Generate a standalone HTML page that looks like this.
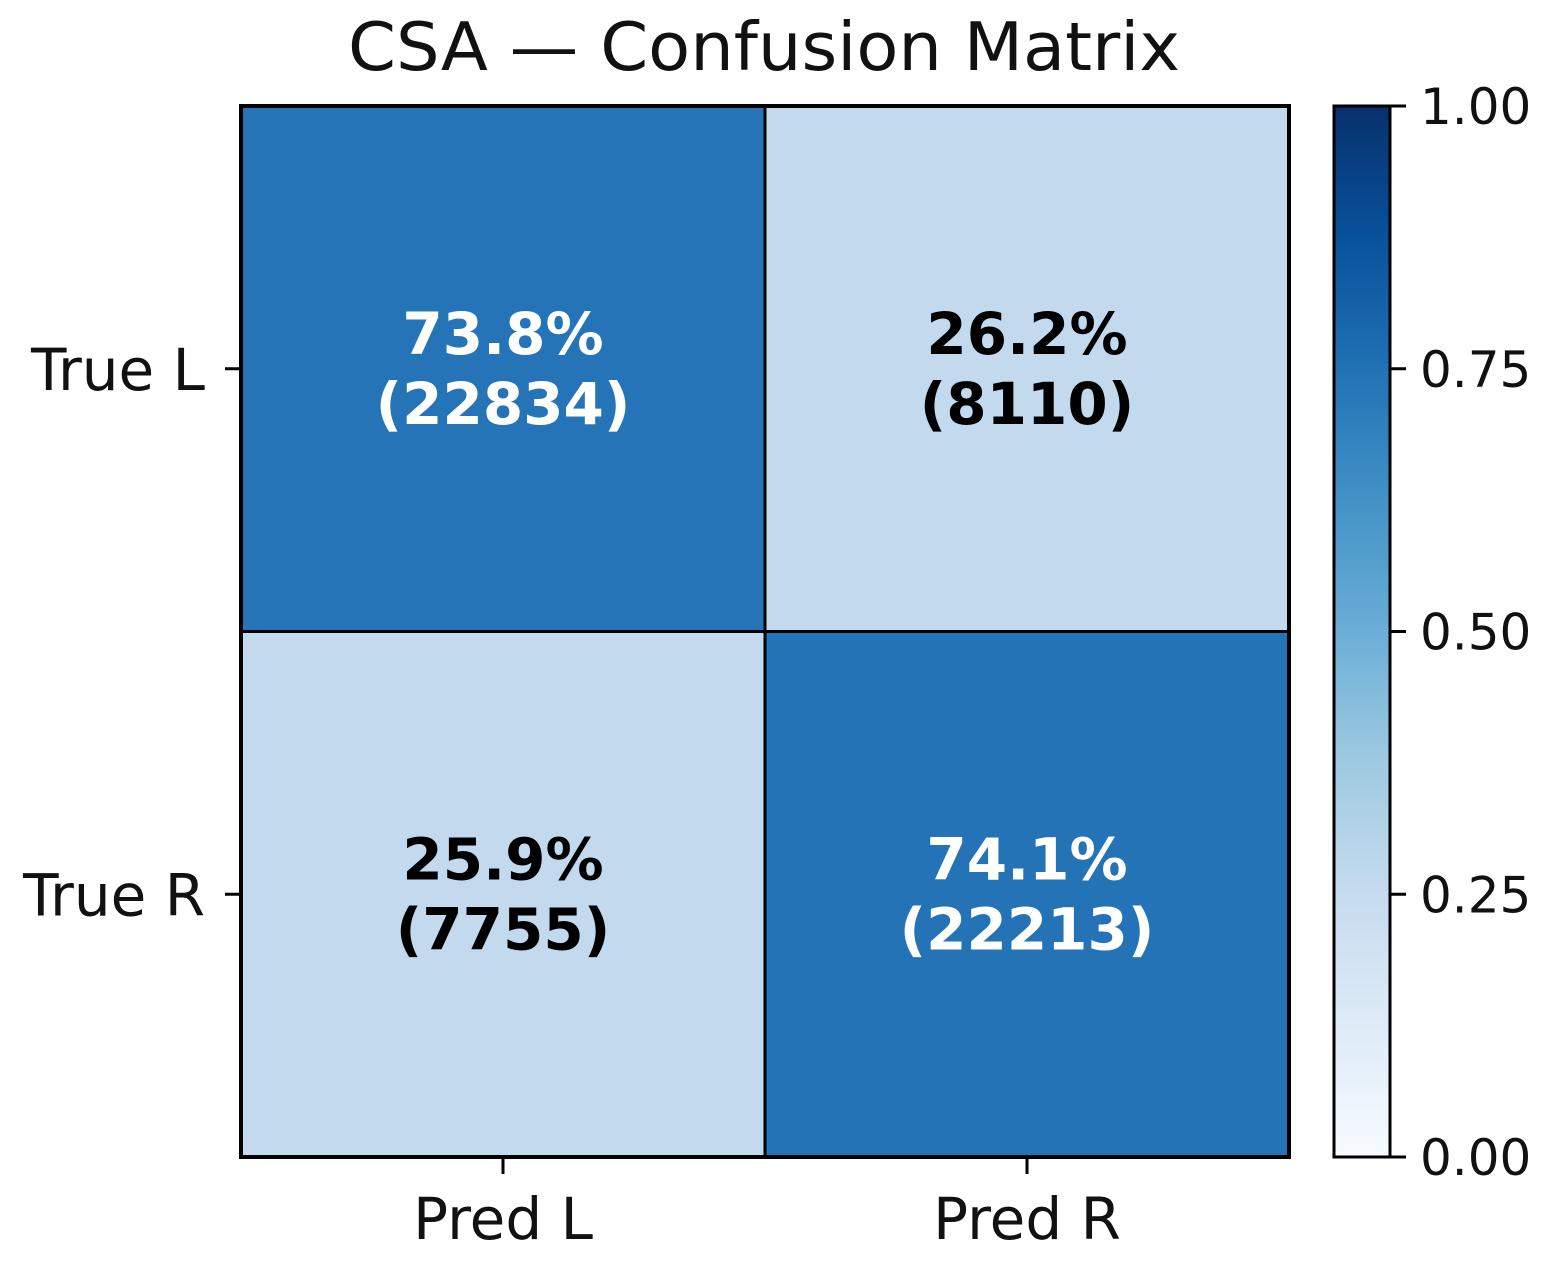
<!DOCTYPE html>
<html><head><meta charset="utf-8"><style>
html,body{margin:0;padding:0;background:#fff}
svg{display:block;font-family:"DejaVu Sans","Liberation Sans",sans-serif}
</style></head><body>
<svg id="chart" width="1554" height="1288" viewBox="0 0 1554 1288">
<defs>
<linearGradient id="blues" x1="0" y1="1" x2="0" y2="0">
<stop offset="0" stop-color="#f7fbff"/><stop offset="0.125" stop-color="#deebf7"/>
<stop offset="0.25" stop-color="#c6dbef"/><stop offset="0.375" stop-color="#9ecae1"/>
<stop offset="0.5" stop-color="#6baed6"/><stop offset="0.625" stop-color="#4292c6"/>
<stop offset="0.75" stop-color="#2171b5"/><stop offset="0.875" stop-color="#08519c"/>
<stop offset="1" stop-color="#08306b"/>
</linearGradient>
</defs>
<text x="764" y="70" font-size="67" text-anchor="middle" fill="#111" textLength="832" lengthAdjust="spacingAndGlyphs">CSA — Confusion Matrix</text>
<g id="cells"></g>
<g id="axes"></g>
<g id="cbar"></g>
</svg>
<script>
const rowLabels = ["True L", "True R"];
const colLabels = ["Pred L", "Pred R"];
const fractions = [[0.738, 0.262],[0.259, 0.741]];
const counts = [[22834, 8110],[7755, 22213]];
const cbarTicks = [0, 0.25, 0.5, 0.75, 1.0];

const NS = "http://www.w3.org/2000/svg";
const L = 241, T = 106, R = 1289, B = 1157;
const cw = (R - L) / colLabels.length, ch = (B - T) / rowLabels.length;
const stops = [[0,[247,251,255]],[0.125,[222,235,247]],[0.25,[198,219,239]],[0.375,[158,202,225]],[0.5,[107,174,214]],[0.625,[66,146,198]],[0.75,[33,113,181]],[0.875,[8,81,156]],[1,[8,48,107]]];
function color(v){
  for(let i=0;i<stops.length-1;i++){
    const [a,ca]=stops[i],[b,cb]=stops[i+1];
    if(v<=b){const t=(v-a)/(b-a);return "rgb("+ca.map((c,k)=>Math.round(c+(cb[k]-c)*t)).join(",")+")";}
  }
  return "rgb(8,48,107)";
}
function el(tag, attrs, parent){const e=document.createElementNS(NS,tag);for(const k in attrs)e.setAttribute(k,attrs[k]);parent.appendChild(e);return e;}
const cells=document.getElementById("cells");
for(let r=0;r<rowLabels.length;r++){
  for(let c=0;c<colLabels.length;c++){
    const v=fractions[r][c];
    const rect=el("rect",{x:L+c*cw,y:T+r*ch,width:cw,height:ch,fill:color(v),stroke:"#000","stroke-width":3},cells);
    
    
    const cx=L+(c+0.5)*cw, cy=T+(r+0.5)*ch;
    const fill=v>0.5?"#fff":"#000";
    const t1=el("text",{x:cx,y:cy-15,"font-size":58,"font-weight":"bold","text-anchor":"middle",fill:fill},cells);
    t1.textContent=(v*100).toFixed(1)+"%";
    
    
    const t2=el("text",{x:cx,y:cy+55,"font-size":58,"font-weight":"bold","text-anchor":"middle",fill:fill},cells);
    t2.textContent="("+counts[r][c]+")";
    
    
  }
}
const axes=document.getElementById("axes");
el("rect",{x:L,y:T,width:R-L,height:B-T,fill:"none",stroke:"#000","stroke-width":4},axes);
rowLabels.forEach((lab,r)=>{
  const y=T+(r+0.5)*ch;
  el("line",{x1:L-16,x2:L,y1:y,y2:y,stroke:"#000","stroke-width":3},axes);
  const t=el("text",{x:L-36,y:y+21,"font-size":58,"text-anchor":"end",fill:"#111"},axes);
  t.textContent=lab;
  
  
});
colLabels.forEach((lab,c)=>{
  const x=L+(c+0.5)*cw;
  el("line",{x1:x,x2:x,y1:B,y2:B+17,stroke:"#000","stroke-width":3},axes);
  const t=el("text",{x:x,y:B+82,"font-size":58,"text-anchor":"middle",fill:"#111"},axes);
  t.textContent=lab;
  
  
});
const cb=document.getElementById("cbar");
const CX=1334, CW=56;
const bar=el("rect",{x:CX,y:T,width:CW,height:B-T,fill:"url(#blues)",stroke:"#000","stroke-width":3},cb);


cbarTicks.forEach((v,i)=>{
  const y=B-(B-T)*v;
  el("line",{x1:CX+CW,x2:CX+CW+16,y1:y,y2:y,stroke:"#000","stroke-width":3},cb);
  const t=el("text",{x:CX+CW+30,y:y+18,"font-size":50,fill:"#111"},cb);
  t.textContent=v.toFixed(2);
  
  
});
</script>
</body></html>
